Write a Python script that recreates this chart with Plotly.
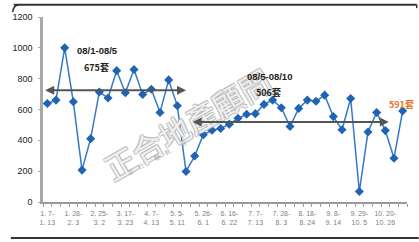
import plotly.graph_objects as go

# weekly sales (units)
values = [639, 661, 1000, 650, 207, 411, 714, 675, 852, 709, 859, 698,
          731, 581, 792, 624, 198, 298, 437, 465, 477, 505, 543, 569,
          573, 633, 661, 611, 490, 607, 661, 654, 693, 554, 469, 671,
          68, 454, 581, 463, 284, 591]
x_idx = list(range(len(values)))

tick_pos = [0, 3, 6, 9, 12, 15, 18, 21, 24, 27, 30, 33, 36, 39]
tick_labels = ["1. 7-<br>1. 13", "1. 28-<br>2. 3", "2. 25-<br>3. 2", "3. 17-<br>3. 23",
               "4. 7-<br>4. 13", "5. 5-<br>5. 11", "5. 26-<br>6. 1", "6. 16-<br>6. 22",
               "7. 7-<br>7. 13", "7. 28-<br>8. 3", "8. 18-<br>8. 24", "9. 8-<br>9. 14",
               "9. 29-<br>10. 5", "10. 20-<br>10. 26"]

period1_label = "08/1-08/5"
period1_avg_text = "675套"
period2_label = "08/5-08/10"
period2_avg_text = "506套"
last_text = "591套"

W, H = 419, 242
ML, MR, MT, MB = 33, 12, 14, 40
pw, ph = W - ML - MR, H - MT - MB

def px_x(p):
    return (p - ML) / pw

def px_y(p):
    return (H - MB - p) / ph

def label(xp, yp, text, family, size, color, weight="bold", angle=0, shadow=None):
    f = dict(family=family, size=size, color=color, weight=weight)
    if shadow:
        f["shadow"] = shadow
    return dict(xref="paper", yref="paper", x=px_x(xp), y=px_y(yp), text=text,
                showarrow=False, xanchor="center", yanchor="middle", textangle=angle, font=f)

fig = go.Figure()
fig.add_trace(go.Scatter(
    x=x_idx, y=values, mode="lines+markers",
    line=dict(color="#3479c9", width=1.5),
    marker=dict(symbol="diamond", size=7, color="#1f63b5"),
    hoverinfo="skip", showlegend=False,
))

outline = "-1px -1px 0 #b8b8b8, 1px -1px 0 #b8b8b8, -1px 1px 0 #b8b8b8, 1px 1px 0 #b8b8b8"
ann = []
# watermark
ann.append(label(181, 122, "正合地產顧問", "Noto Sans CJK TC", 31, "rgba(255,255,255,0.8)",
                 weight="normal", angle=-30, shadow=outline))
ann.append(label(150, 157, "正　行　　聯　訊　　合", "Noto Sans CJK TC", 6, "#a8a8a8",
                 weight="normal", angle=-28))
# arrows
ann.append(dict(x=16.0, y=725, ax=-0.42, ay=725, xref="x", yref="y", axref="x", ayref="y",
                text="", showarrow=True, arrowhead=2, startarrowhead=2, arrowside="end+start",
                arrowsize=1, arrowwidth=1.8, arrowcolor="#555555"))
ann.append(dict(x=39.4, y=519, ax=16.6, ay=519, xref="x", yref="y", axref="x", ayref="y",
                text="", showarrow=True, arrowhead=2, startarrowhead=2, arrowside="end+start",
                arrowsize=1, arrowwidth=1.8, arrowcolor="#555555"))
# texts
ann.append(label(89, 48, period1_label, "Liberation Sans", 9.5, "#222222"))
ann.append(label(88, 65, period1_avg_text, "Noto Sans CJK TC", 9, "#222222"))
ann.append(label(266, 74, period2_label, "Liberation Sans", 9.5, "#222222"))
ann.append(label(265, 91, period2_avg_text, "Noto Sans CJK TC", 9, "#222222"))
ann.append(label(401, 103, last_text, "Noto Sans CJK TC", 9, "#e8731e"))

shapes = [
    dict(type="line", xref="paper", yref="paper", x0=px_x(3), x1=px_x(417), y0=px_y(1.5), y1=px_y(1.5),
         line=dict(color="#333333", width=2)),
    dict(type="line", xref="paper", yref="paper", x0=px_x(0), x1=px_x(419), y0=px_y(238.5), y1=px_y(238.5),
         line=dict(color="#333333", width=2)),
    dict(type="line", xref="paper", yref="paper", x0=px_x(417), x1=px_x(417), y0=px_y(1.5), y1=px_y(5),
         line=dict(color="#333333", width=1.5)),
    dict(type="path", xref="paper", yref="paper",
         path=f"M {px_x(9)} {px_y(1.5)} Q {px_x(2)} {px_y(2)} {px_x(2)} {px_y(9)}",
         line=dict(color="#333333", width=1.5)),
]

fig.update_layout(
    width=W, height=H, margin=dict(l=ML, r=MR, t=MT, b=MB),
    paper_bgcolor="white", plot_bgcolor="white",
    annotations=ann, shapes=shapes,
    xaxis=dict(range=[-0.5, len(values) - 0.5], tickmode="array", tickvals=tick_pos, ticktext=tick_labels,
               showgrid=False, zeroline=False, showline=True, linecolor="#9a9a9a", linewidth=1.5,
               ticks="", tickfont=dict(family="Liberation Sans", size=7, color="#808080"),
               minor=dict(tick0=-0.5, dtick=1, ticks="outside", ticklen=3, tickcolor="#9a9a9a", tickwidth=1),
               ticklabelstandoff=4),
    yaxis=dict(range=[0, 1200], dtick=200, showgrid=False, zeroline=False, showline=True,
               linecolor="#a8a8a8", linewidth=2.5, ticks="outside", ticklen=2, tickcolor="#a8a8a8",
               tickfont=dict(family="Liberation Sans", size=9, color="#222222"), ticklabelstandoff=4),
)

fig.write_html("out.html")
